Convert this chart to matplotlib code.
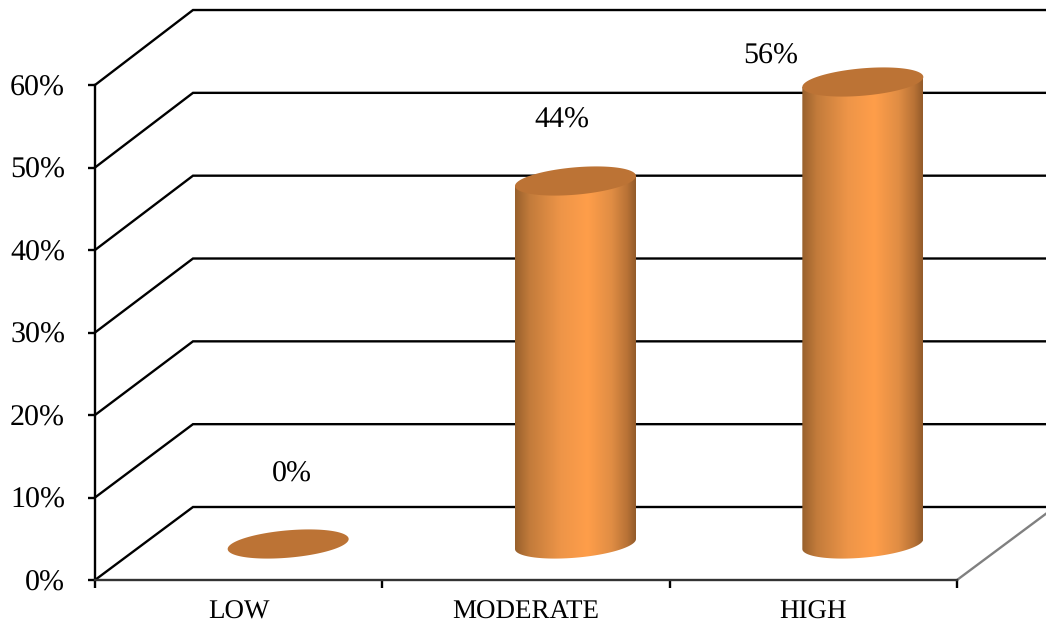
import numpy as np
import matplotlib
matplotlib.use('Agg')
import matplotlib.pyplot as plt
from matplotlib.colors import LinearSegmentedColormap
from matplotlib.patches import Polygon

categories = ['LOW', 'MODERATE', 'HIGH']
values = [0, 44, 56]
value_labels = ['0%', '44%', '56%']
y_ticks = [0, 10, 20, 30, 40, 50, 60]
y_tick_labels = ['0%', '10%', '20%', '30%', '40%', '50%', '60%']

plt.rcParams['font.family'] = ['Liberation Serif', 'DejaVu Serif']
plt.rcParams['text.hinting'] = 'none'
plt.rcParams['text.hinting_factor'] = 1

W, H = 1046, 624
fig = plt.figure(figsize=(W/100, H/100), dpi=100)
ax = fig.add_axes([95/W, 44/H, 862/W, 495/H])
ax.set_xlim(0, 3)
ax.set_ylim(0, 60)

# size of one pixel in data units
px = 3/862
py = 60/495
depth_x = 98*px
depth_y = 73*py
wall_scale = 1.004  # back wall is a hair taller than the axis

# back wall and side wall
for v in y_ticks:
    wall_y = v*wall_scale + depth_y
    ax.plot([0, depth_x, 3 + depth_x], [v, wall_y, wall_y], color='black',
            lw=1.7, clip_on=False, zorder=1, solid_joinstyle='miter')
ax.plot([3, 3 + depth_x], [0, depth_y], color='#808080', lw=1.7, clip_on=False, zorder=1)

# cylinders
cmap = LinearSegmentedColormap.from_list('cyl', [(0, '#98602C'), (0.12, '#C27B3B'), (0.38, '#EE9548'),
                                                 (0.6, '#FF9E4A'), (0.8, '#E08D44'), (0.93, '#B87236'),
                                                 (1, '#935B2A')])
half_w = 60.5*px
minor = 13.7*py
skew = 5*py
t = np.linspace(0, 2*np.pi, 200)
for i, v in enumerate(values):
    cx = i + 0.5 + depth_x/2 + 0.5*px
    cy = v + 36*py
    if v > 0:
        tt = np.linspace(np.pi, 2*np.pi, 100)
        low_x = cx + half_w*np.cos(tt)
        low_y = cy - v + minor*np.sin(tt) + skew*np.cos(tt)
        body = np.vstack([[cx - half_w, cy - skew], np.column_stack([low_x, low_y]), [cx + half_w, cy + skew]])
        clip = Polygon(body, transform=ax.transData, fc='none', ec='none', clip_on=False)
        ax.add_patch(clip)
        im = ax.imshow(np.linspace(0, 1, 256)[None, :], cmap=cmap, aspect='auto', zorder=2,
                       interpolation='bilinear',
                       extent=[cx - half_w, cx + half_w, cy - v - 3*minor, cy + 2*minor])
        im.set_clip_box(fig.bbox)
        im.set_clip_path(clip)
    ax.fill(cx + half_w*np.cos(t), cy + minor*np.sin(t) + skew*np.cos(t), color='#BC7335',
            lw=0, clip_on=False, zorder=3)
ax.set_xlim(0, 3)
ax.set_ylim(0, 60)

# value labels, placed by hand like in the original
label_dx = [4, -13, -92]
label_dy = [70, 61, 26]
for i, v in enumerate(values):
    ax.text(i + 0.5 + depth_x/2 + label_dx[i]*px, v + 36*py + label_dy[i]*py, value_labels[i],
            fontsize=21.6, ha='center', va='center', color='black', clip_on=False)

for s in ['top', 'right']:
    ax.spines[s].set_visible(False)
ax.spines['left'].set_linewidth(1.7)
ax.spines['bottom'].set_linewidth(1.7)
ax.spines['bottom'].set_color('#333333')

ax.set_yticks(y_ticks)
ax.set_yticklabels(y_tick_labels, fontsize=21.6, va='center_baseline')
ax.tick_params(axis='y', length=5, width=1.7, pad=16.5)
ax.set_xticks([0, 1, 2, 3])
ax.set_xticklabels([])
ax.set_xticks([0.5, 1.5, 2.5], minor=True)
ax.set_xticklabels(categories, minor=True, fontsize=19.4)
ax.tick_params(axis='x', which='major', length=6, width=1.7)
ax.tick_params(axis='x', which='minor', length=0, pad=14.5)

fig.savefig('out.png', dpi=100)
